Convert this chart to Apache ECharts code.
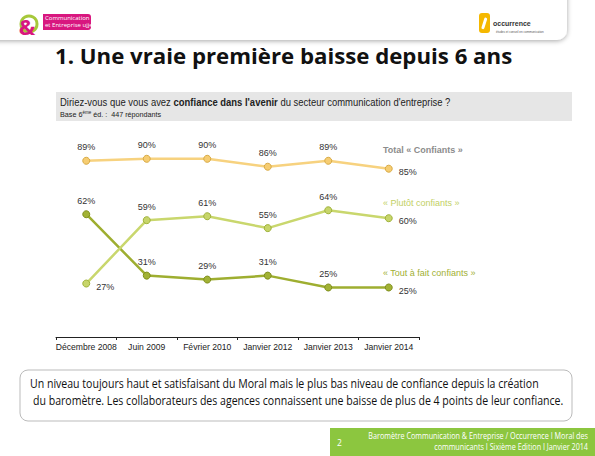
<!DOCTYPE html>
<html><head><meta charset="utf-8">
<script src="https://cdn.jsdelivr.net/npm/echarts@6/dist/echarts.min.js"></script>
<style>html,body{margin:0;padding:0;background:#fff}#c{width:595px;height:456px}</style>
</head><body><div id="c"></div>
<script>
const categories = ['Décembre 2008','Juin 2009','Février 2010','Janvier 2012','Janvier 2013','Janvier 2014'];
const totalConfiants = [89, 90, 90, 86, 89, 85];
const plutotConfiants = [27, 59, 61, 55, 64, 60];
const toutAFaitConfiants = [62, 31, 29, 31, 25, 25];
const seriesNames = ['Total « Confiants »', '« Plutôt confiants »', '« Tout à fait confiants »'];

const chart = echarts.init(document.getElementById('c'), null, {renderer: 'svg'});
const F = 'Liberation Sans, Arial, sans-serif';
const H = 'Open Sans, Noto Sans, sans-serif';

function lbl(data, lastRight, firstRight) {
  return data.map((v, i) => {
    const o = {value: v};
    if ((i === data.length - 1 && lastRight) || (i === 0 && firstRight)) {
      o.label = {position: 'right', distance: 6, offset: [0, 3]};
    }
    return o;
  });
}
const baseLabel = {show: true, position: 'top', distance: 5, formatter: '{c}%', color: '#333', fontSize: 9, fontFamily: F};

function txt(x, y, text, font, fill, sx, extra) {
  return Object.assign({type: 'text', x: x, y: y, scaleX: sx || 1,
    style: {x: 0, y: 0, text: text, font: font, fill: fill, textVerticalAlign: 'middle'}, z: 3}, extra || {});
}

chart.setOption({
  animation: false,
  grid: {left: 56, right: 176, top: 139, bottom: 119, containLabel: false},
  xAxis: {
    type: 'category', data: categories, boundaryGap: true,
    axisLine: {lineStyle: {color: '#222', width: 1}},
    axisTick: {show: true, length: 3, lineStyle: {color: '#222'}},
    axisLabel: {color: '#222', fontSize: 8.6, fontFamily: F, margin: 5, interval: 0}
  },
  yAxis: {type: 'value', min: 0, max: 100, show: false, splitLine: {show: false}},
  series: [
    {name: seriesNames[0], type: 'line', data: lbl(totalConfiants, true, false),
     lineStyle: {color: '#f7d27f', width: 2.5}, symbol: 'circle', symbolSize: 7,
     itemStyle: {color: '#f6cd72', borderColor: '#d8aa45', borderWidth: 1}, label: baseLabel, z: 3},
    {name: seriesNames[2], type: 'line', data: lbl(toutAFaitConfiants, true, false),
     lineStyle: {color: '#9eae30', width: 2.5}, symbol: 'circle', symbolSize: 7,
     itemStyle: {color: '#a2b235', borderColor: '#7f8f1c', borderWidth: 1}, label: baseLabel, z: 3},
    {name: seriesNames[1], type: 'line', data: lbl(plutotConfiants, true, true),
     lineStyle: {color: '#c9d76d', width: 2.5}, symbol: 'circle', symbolSize: 7,
     itemStyle: {color: '#c7d56a', borderColor: '#9fb23a', borderWidth: 1}, label: baseLabel, z: 4}
  ],
  graphic: [
    {type: 'rect', shape: {x: -20, y: -20, width: 587, height: 60, r: [0, 0, 10, 0]},
     style: {fill: '#fff', shadowBlur: 5, shadowColor: 'rgba(0,0,0,0.35)', shadowOffsetY: 1}, z: 0},
    {type: 'circle', shape: {cx: 29, cy: 24, r: 8}, style: {fill: 'none', stroke: '#a6c83a', lineWidth: 3}, z: 2},
    {type: 'text', style: {x: 27, y: 26, text: '&', font: 'bold 22px ' + H, fill: '#d8177f', textAlign: 'center', textVerticalAlign: 'middle'}, z: 3},
    {type: 'rect', shape: {x: 43, y: 14, width: 48, height: 16, r: [0, 3, 3, 0]}, style: {fill: '#d8177f'}, z: 2},
    txt(45, 18, 'Communication', '6px ' + H, '#fff'),
    txt(45, 25, 'et Entreprise ujjef', '6px ' + H, '#fff'),
    {type: 'rect', shape: {x: 479, y: 13, width: 11, height: 20, r: 3}, style: {fill: '#f5b800'}, z: 2},
    {type: 'rect', shape: {x: 483, y: 17, width: 3, height: 12, r: 1.5}, style: {fill: '#fff'}, rotation: -0.3, originX: 484, originY: 23, z: 2},
    txt(493, 23, 'occurrence', 'bold 7px ' + F, '#333'),
    txt(496, 32, 'études et conseil en communication', '3px ' + F, '#555'),
    txt(55, 55, '1. Une vraie première baisse depuis 6 ans', 'bold 22px ' + H, '#111', 1.01),
    {type: 'rect', shape: {x: 56, y: 92, width: 516, height: 29}, style: {fill: '#e6e6e6'}, z: 1},
    {type: 'text', x: 60, y: 102, scaleX: 0.86, style: {x: 0, y: 0, font: '11px ' + F, textVerticalAlign: 'middle',
      text: '{a|Diriez-vous que vous avez }{b|confiance dans l\'avenir}{a| du secteur communication d\'entreprise ?}',
      rich: {a: {font: '11px ' + F, fill: '#222'}, b: {font: 'bold 11px ' + F, fill: '#222'}}}, z: 3},
    {type: 'text', x: 60, y: 114, scaleX: 0.9, style: {x: 0, y: 0, font: '8px ' + F, textVerticalAlign: 'middle',
      text: '{a|Base 6}{s|ème}{a| éd. :  447 répondants}',
      rich: {a: {font: '8px ' + F, fill: '#222'}, s: {font: '5px ' + F, fill: '#222', verticalAlign: 'top', padding: [0, 0, 4, 0]}}}, z: 3},
    txt(383, 150, seriesNames[0], 'bold 9px ' + F, '#8c8c8c'),
    txt(383, 203, seriesNames[1], '9px ' + F, '#c2d064'),
    txt(383, 273, seriesNames[2], '9px ' + F, '#a1b033'),
    {type: 'rect', shape: {x: 20, y: 370, width: 552, height: 51, r: 8}, style: {fill: '#fff', stroke: '#bbb', lineWidth: 1}, z: 1},
    txt(30, 383, 'Un niveau toujours haut et satisfaisant du Moral mais le plus bas niveau de confiance depuis la création', '12px ' + H, '#111', 0.88),
    txt(33, 400, 'du baromètre. Les collaborateurs des agences connaissent une baisse de plus de 4 points de leur confiance.', '12px ' + H, '#111', 0.88),
    {type: 'rect', shape: {x: 330, y: 428, width: 265, height: 28}, style: {fill: '#8cc63f'}, z: 1},
    txt(337, 442, '2', '8.5px ' + H, '#fff'),
    {type: 'text', x: 588, y: 436, scaleX: 0.85, style: {x: 0, y: 0, text: 'Baromètre Communication & Entreprise / Occurrence I Moral des', font: '8.5px ' + H, fill: '#fff', textAlign: 'right', textVerticalAlign: 'middle'}, z: 3},
    {type: 'text', x: 588, y: 447, scaleX: 0.85, style: {x: 0, y: 0, text: 'communicants I Sixième Edition I Janvier 2014', font: '8.5px ' + H, fill: '#fff', textAlign: 'right', textVerticalAlign: 'middle'}, z: 3}
  ]
});
</script></body></html>
